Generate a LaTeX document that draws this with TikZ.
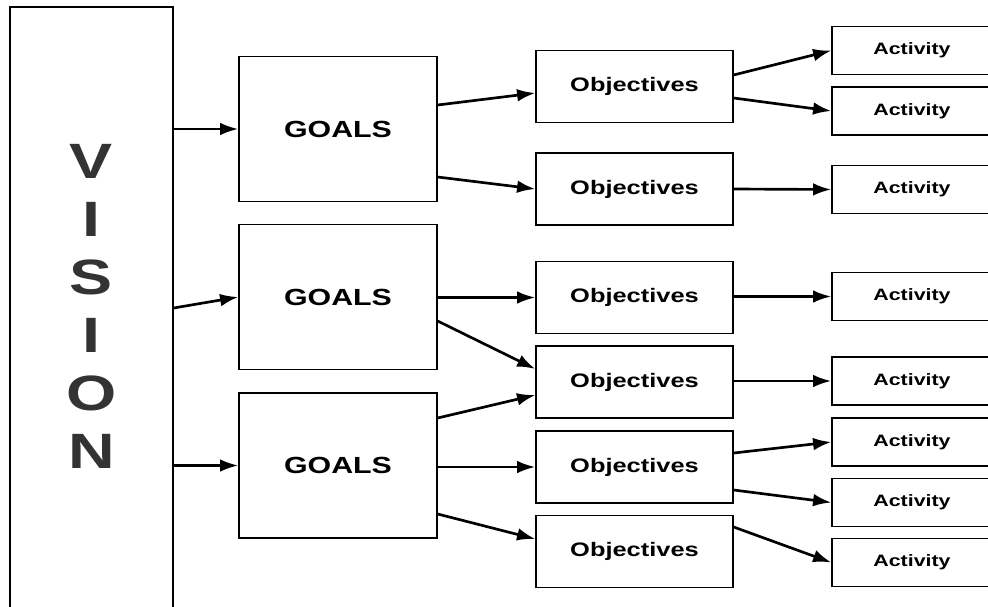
\documentclass[tikz,border=0pt]{standalone}
\usepackage{fontspec}
\usetikzlibrary{arrows.meta}
\newfontfamily\boxfont[FakeStretch=1.3]{Liberation Sans}

\tikzset{
	box/.style={draw, line width=0.9pt, inner sep=0pt, font=\boxfont\bfseries},
	goal/.style={box, minimum width=4.95cm, minimum height=3.63cm, font=\boxfont\bfseries\fontsize{16.6}{20}\selectfont},
	obj/.style={box, minimum width=4.925cm, minimum height=1.8cm, font=\boxfont\bfseries\fontsize{13.9}{17}\selectfont},
	act/.style={box, minimum width=4cm, minimum height=1.2cm, font=\boxfont\bfseries\fontsize{11.7}{14}\selectfont},
	arr/.style={line width=1.9pt, -{Latex[length=13pt,width=9pt]}}
}

\begin{document}
\begin{tikzpicture}[x=0.025cm, y=-0.025cm]
	\useasboundingbox (0,0) rectangle (988,606);
	\clip (0,0) rectangle (988,606);
	% vision column, runs off the bottom
	\node (vision) [box, minimum width=4.075cm, minimum height=16.075cm] at (91.5,328.5) {};
	\node (word) [align=center, text=black!80, font=\boxfont\bfseries\fontsize{35.3}{41.2}\selectfont] at (91.5,306.5) {V\\I\\S\\I\\O\\N};
	% goals
	\node (g1) [goal] at (338,129) {GOALS};
	\node (g2) [goal] at (338,297) {GOALS};
	\node (g3) [goal] at (338,465.5) {GOALS};
	% objectives
	\node (o1) [obj] at (634.5,86.5) {Objectives};
	\node (o2) [obj] at (634.5,189) {Objectives};
	\node (o3) [obj] at (634.5,297.5) {Objectives};
	\node (o4) [obj] at (634.5,382) {Objectives};
	\node (o5) [obj] at (634.5,467) {Objectives};
	\node (o6) [obj] at (634.5,551.5) {Objectives};
	% activities
	\node (a1) [act] at (912,50.5) {Activity};
	\node (a2) [act] at (912,111) {Activity};
	\node (a3) [act] at (912,189.5) {Activity};
	\node (a4) [act] at (912,296.5) {Activity};
	\node (a5) [act] at (912,381) {Activity};
	\node (a6) [act] at (912,442) {Activity};
	\node (a7) [act] at (912,502.5) {Activity};
	\node (a8) [act] at (912,562.5) {Activity};
	% vision to goals
	\draw[arr] (vision.east |- g1.west) -- (g1.west);
	\draw[arr] (vision.east |- 0,308) -- (g2.west);
	\draw[arr] (vision.east |- g3.west) -- (g3.west);
	% goals to objectives
	\draw[arr] (g1.east |- 0,105) -- (o1.west |- 0,93);
	\draw[arr] (g1.east |- 0,177) -- (o2.west);
	\draw[arr] (g2.east |- o3.west) -- (o3.west);
	\draw[arr] (g2.east |- 0,321) -- (o4.west |- 0,369);
	\draw[arr] (g3.east |- 0,418) -- (o4.west |- 0,395);
	\draw[arr] (g3.east |- o5.west) -- (o5.west);
	\draw[arr] (g3.east |- 0,514) -- (o6.west |- 0,539);
	% objectives to activities
	\draw[arr] (o1.east |- 0,75) -- (a1.west);
	\draw[arr] (o1.east |- 0,98) -- (a2.west);
	\draw[arr] (o2.east) -- (a3.west);
	\draw[arr] (o3.east |- a4.west) -- (a4.west);
	\draw[arr] (o4.east |- a5.west) -- (a5.west);
	\draw[arr] (o5.east |- 0,453) -- (a6.west);
	\draw[arr] (o5.east |- 0,490) -- (a7.west);
	\draw[arr] (o6.east |- 0,527) -- (a8.west);
\end{tikzpicture}
\end{document}
